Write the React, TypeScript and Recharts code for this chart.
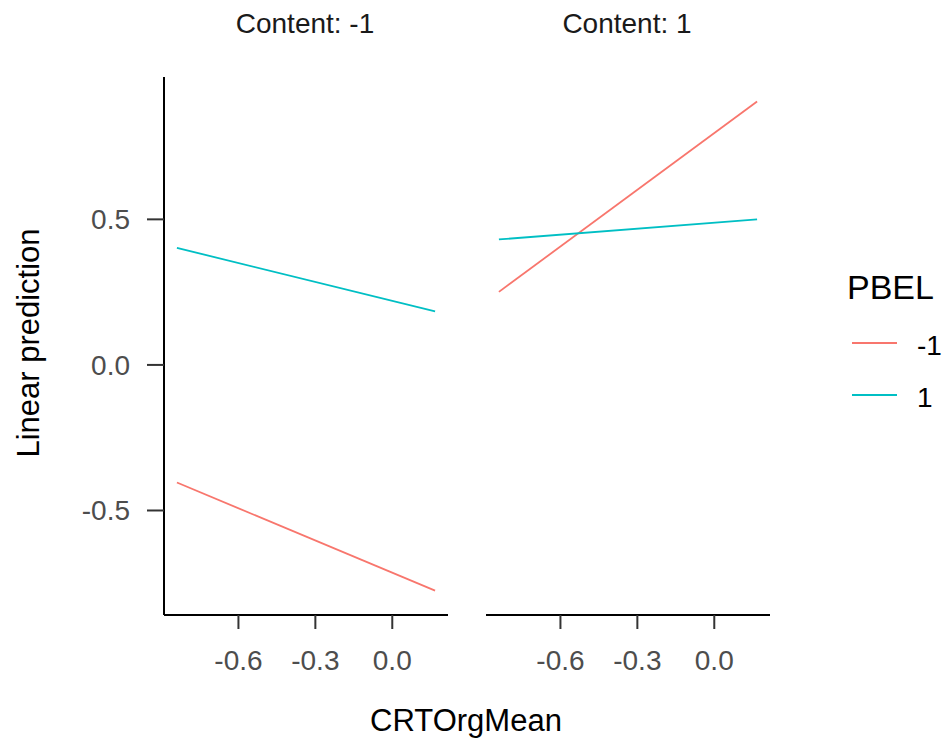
import React from 'react';
import { LineChart, Line, XAxis, YAxis } from 'recharts';

// Predictor range (CRTOrgMean) covered by each fitted line
const crtRange = [-0.84, 0.167];

// Facet (Content) and colour (PBEL) levels
const contentLevels = ['-1', '1'];
const pbelLevels = ['-1', '1'];
const pbelColors = ['#F8766D', '#00BFC4'];

// Linear predictions at the two ends of crtRange
const contentNegPbelNeg = [-0.404, -0.775];
const contentNegPbelPos = [0.402, 0.184];
const contentPosPbelNeg = [0.251, 0.905];
const contentPosPbelPos = [0.431, 0.5];

const xTicks = [-0.6, -0.3, 0.0];
const yTicks = [-0.5, 0.0, 0.5];

const FONT = '"Liberation Sans", Arial, sans-serif';

const buildRows = (neg: number[], pos: number[]) =>
  crtRange.map((x, i) => ({ x, pbelNeg: neg[i], pbelPos: pos[i] }));

const panels = [
  { label: `Content: ${contentLevels[0]}`, rows: buildRows(contentNegPbelNeg, contentNegPbelPos) },
  { label: `Content: ${contentLevels[1]}`, rows: buildRows(contentPosPbelNeg, contentPosPbelPos) },
];

// ggplot-style 5% expansion of the data range
const expand = (vals: number[]): [number, number] => {
  const lo = Math.min(...vals);
  const hi = Math.max(...vals);
  const pad = (hi - lo) * 0.05;
  return [lo - pad, hi + pad];
};
const xDomain = expand(crtRange);
const yDomain = expand([
  ...contentNegPbelNeg,
  ...contentNegPbelPos,
  ...contentPosPbelNeg,
  ...contentPosPbelPos,
]);

const fmt = (v: number) => v.toFixed(1);

const PLOT_TOP = 77;
const CHART_H = 740;
const X_AXIS_H = 60;
const MARGIN_BOTTOM = 65;

const tickStyle = { fill: '#4D4D4D', fontSize: 28, fontFamily: FONT };

function Panel({ rows, showY, width, yAxisWidth, rightMargin }: any) {
  return (
    <LineChart
      width={width}
      height={CHART_H}
      data={rows}
      margin={{ top: PLOT_TOP, right: rightMargin, bottom: MARGIN_BOTTOM, left: 0 }}
    >
      <XAxis
        type="number"
        dataKey="x"
        domain={xDomain}
        ticks={xTicks}
        allowDataOverflow
        tickFormatter={fmt}
        height={X_AXIS_H}
        tick={tickStyle}
        tickSize={14}
        tickMargin={21}
        axisLine={{ stroke: '#000', strokeWidth: 2 }}
        tickLine={{ stroke: '#333', strokeWidth: 2 }}
      />
      <YAxis
        type="number"
        domain={yDomain}
        ticks={yTicks}
        allowDataOverflow
        hide={!showY}
        width={yAxisWidth}
        tickFormatter={fmt}
        tick={tickStyle}
        tickSize={17}
        tickMargin={17}
        axisLine={{ stroke: '#000', strokeWidth: 2 }}
        tickLine={{ stroke: '#333', strokeWidth: 2 }}
      />
      <Line
        type="linear"
        dataKey="pbelNeg"
        stroke={pbelColors[0]}
        strokeWidth={1.8}
        dot={false}
        isAnimationActive={false}
      />
      <Line
        type="linear"
        dataKey="pbelPos"
        stroke={pbelColors[1]}
        strokeWidth={1.8}
        dot={false}
        isAnimationActive={false}
      />
    </LineChart>
  );
}

export default function App() {
  return (
    <div
      style={{
        position: 'absolute',
        left: 0,
        top: 0,
        width: 945,
        height: 740,
        background: '#fff',
        fontFamily: FONT,
      }}
    >
      <div style={{ position: 'absolute', left: 0, top: 0 }}>
        <Panel rows={panels[0].rows} showY width={460} yAxisWidth={164} rightMargin={12} />
      </div>
      <div style={{ position: 'absolute', left: 486, top: 0 }}>
        <Panel rows={panels[1].rows} showY={false} width={300} yAxisWidth={0} rightMargin={16} />
      </div>

      {/* Strip labels, axis titles and the PBEL legend */}
      <svg
        width={945}
        height={740}
        style={{ position: 'absolute', left: 0, top: 0, pointerEvents: 'none' }}
      >
        <text x={305} y={33} textAnchor="middle" fontSize={28} fill="#1A1A1A" fontFamily={FONT}>
          {panels[0].label}
        </text>
        <text x={627} y={33} textAnchor="middle" fontSize={28} fill="#1A1A1A" fontFamily={FONT}>
          {panels[1].label}
        </text>
        <text x={466} y={731} textAnchor="middle" fontSize={31} fill="#000" fontFamily={FONT}>
          CRTOrgMean
        </text>
        <text
          x={0}
          y={0}
          transform="translate(39,343) rotate(-90)"
          textAnchor="middle"
          fontSize={31}
          fill="#000"
          fontFamily={FONT}
        >
          Linear prediction
        </text>
        <text x={847} y={299} fontSize={34} fill="#000" fontFamily={FONT}>
          PBEL
        </text>
        {pbelLevels.map((lvl, i) => (
          <g key={lvl}>
            <line
              x1={852}
              x2={897}
              y1={343 + i * 52}
              y2={343 + i * 52}
              stroke={pbelColors[i]}
              strokeWidth={1.8}
            />
            <text x={917} y={355 + i * 52} fontSize={28} fill="#000" fontFamily={FONT}>
              {lvl}
            </text>
          </g>
        ))}
      </svg>
    </div>
  );
}
